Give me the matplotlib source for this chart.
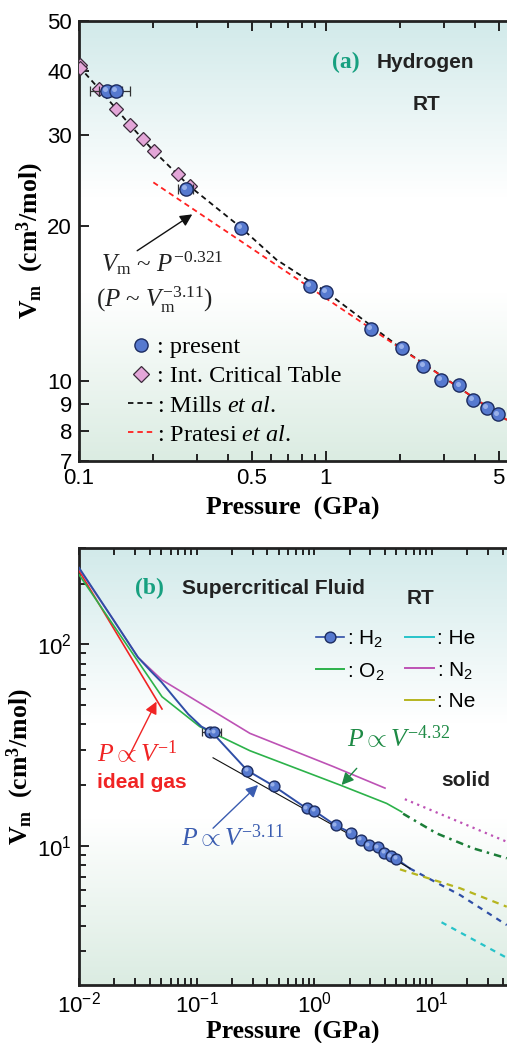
import numpy as np
import matplotlib
matplotlib.use('Agg')
import matplotlib.pyplot as plt
from matplotlib.lines import Line2D
from matplotlib.colors import LinearSegmentedColormap
from matplotlib.ticker import FixedLocator, NullFormatter, NullLocator
from matplotlib.transforms import offset_copy

plt.rcParams['font.family'] = ['Liberation Sans', 'DejaVu Sans']
plt.rcParams['mathtext.fontset'] = 'custom'
plt.rcParams['mathtext.rm'] = 'Liberation Serif'
plt.rcParams['mathtext.it'] = 'Liberation Serif:italic'
plt.rcParams['mathtext.bf'] = 'Liberation Serif:bold'
plt.rcParams['mathtext.sf'] = 'Liberation Sans'

# ---------------- data: panel (a) ----------------
present_P = [0.130, 0.141, 0.270, 0.451, 0.861, 1.00, 1.52, 2.04, 2.48, 2.92, 3.47, 3.95, 4.49, 4.98]
present_V = [36.6, 36.6, 23.6, 19.8, 15.3, 14.9, 12.6, 11.6, 10.7, 10.05, 9.8, 9.2, 8.86, 8.61]
present_Perr = [0.019, 0.020, 0.019, 0.010, 0, 0, 0, 0, 0, 0, 0, 0, 0, 0]

ict_P = [0.101, 0.101, 0.1205, 0.141, 0.161, 0.181, 0.2007, 0.251, 0.281]
ict_V = [41.1, 40.5, 36.9, 33.8, 31.4, 29.5, 28.0, 25.2, 23.9]

mills_P = [0.1, 0.12, 0.16, 0.2, 0.28, 0.45, 0.63, 1.0, 2.0, 5.0, 5.4]
mills_V = [40.8, 37.0, 31.5, 28.0, 23.9, 19.9, 17.2, 14.9, 11.6, 8.6, 8.4]

pratesi_P = [0.2, 5.4]
pratesi_V = [24.3, 8.4]

xticks_a = [0.1, 0.5, 1, 5]
xticklabels_a = ['0.1', '0.5', '1', '5']
xminor_a = [0.2, 0.3, 0.4, 0.6, 0.7, 0.8, 0.9, 2, 3, 4]
yticks_a = [7, 8, 9, 10, 20, 30, 40, 50]
yticklabels_a = ['7', '8', '9', '10', '20', '30', '40', '50']

# ---------------- data: panel (b) ----------------
h2_P = [0.130, 0.141, 0.270, 0.451, 0.861, 1.00, 1.52, 2.04, 2.48, 2.92, 3.47, 3.95, 4.49, 4.98]
h2_V = [36.6, 36.6, 23.6, 19.8, 15.3, 14.9, 12.6, 11.6, 10.7, 10.05, 9.8, 9.2, 8.86, 8.61]
h2_Perr = [0.019, 0.020, 0, 0, 0, 0, 0, 0, 0, 0, 0, 0, 0, 0]
h2_curve_P = [0.01, 0.02, 0.0318, 0.0413, 0.0502, 0.0652, 0.0848, 0.110, 0.135, 0.270, 0.451,
              0.861, 1.00, 1.52, 2.04, 2.48, 2.92, 3.47, 3.95, 4.49, 4.98, 6.5]
h2_curve_V = [240, 130, 86, 73, 65, 54, 45, 39.0, 36.6, 23.6, 19.8,
              15.3, 14.9, 12.6, 11.6, 10.7, 10.05, 9.8, 9.2, 8.86, 8.61, 7.7]
h2_solid_P = [6.5, 17.4, 43.4]
h2_solid_V = [7.7, 5.68, 4.03]
fit311_P = [0.138, 6.52]
fit311_V = [27.3, 7.71]

ideal_P = [0.01, 0.0508]
ideal_V = [232, 47.7]

o2_P = [0.01, 0.0508, 0.1064, 0.284, 1.655, 4.13, 5.55]
o2_V = [222, 54.9, 39.0, 29.6, 20.0, 16.2, 14.7]
o2_solid_P = [5.7, 11.0, 22.5, 43.4]
o2_solid_V = [14.4, 11.5, 9.69, 8.65]

n2_P = [0.01, 0.02, 0.0318, 0.0508, 0.284, 1.45, 4.0]
n2_V = [238, 130, 86, 66.5, 36.1, 24.7, 19.3]
n2_solid_P = [5.9, 43.4]
n2_solid_V = [17.0, 10.45]

ne_solid_P = [5.36, 17.4, 43.4]
ne_solid_V = [7.62, 6.14, 4.97]

he_solid_P = [12.1, 43.4]
he_solid_V = [4.16, 2.77]

# ---------------- figure ----------------
W, H = 507, 1043
fig = plt.figure(figsize=(W / 100, H / 100), dpi=100)


def fx(x):
    return x / W


def fy(y):
    return 1 - y / H


bg_cmap = LinearSegmentedColormap.from_list(
    'bg', [(0, '#dbece2'), (0.38, '#ffffff'), (0.6, '#ffffff'), (1, '#d2eaea')])


def make_axes(left, top, right, bottom):
    rect = [fx(left), fy(bottom), fx(right) - fx(left), fy(top) - fy(bottom)]
    bg = fig.add_axes(rect, zorder=0)
    bg.imshow(np.linspace(0, 1, 256).reshape(-1, 1), cmap=bg_cmap, aspect='auto',
              origin='lower', extent=[0, 1, 0, 1])
    bg.axis('off')
    ax = fig.add_axes(rect, zorder=1)
    ax.set_facecolor('none')
    ax.set_xscale('log')
    ax.set_yscale('log')
    for s in ['left', 'bottom', 'top']:
        ax.spines[s].set_linewidth(2.0)
        ax.spines[s].set_color('#222222')
    ax.spines['right'].set_visible(False)
    ax.tick_params(which='both', direction='in', top=True, right=False, width=1.4,
                   color='#222222', labelsize=16, pad=5)
    ax.tick_params(which='major', length=7.5)
    ax.tick_params(which='minor', length=5)
    return ax


ax1 = make_axes(79, 21, 507, 460.7)
ax2 = make_axes(79, 548, 507, 985)

serif = 'Liberation Serif'
blue_face = '#5679cf'
blue_edge = '#1c2c60'
blue_hi = '#a9bff0'


def spheres(ax, P, V, ms):
    ax.plot(P, V, ls='none', marker='o', ms=ms, mfc=blue_face, mec=blue_edge, mew=1.0, zorder=6)
    tr = offset_copy(ax.transData, fig=fig, x=-ms * 0.14, y=ms * 0.14, units='points')
    ax.plot(P, V, ls='none', marker='o', ms=ms * 0.38, mfc=blue_hi, mec='none', alpha=0.8,
            transform=tr, zorder=7)


# ---------------- panel (a) ----------------
ax1.plot(mills_P, mills_V, ls=(0, (3, 2.2)), color='#111111', lw=1.3, zorder=3)
ax1.plot(pratesi_P, pratesi_V, ls=(0, (3, 2.2)), color='#ff2020', lw=1.3, zorder=3)
ax1.plot(ict_P, ict_V, ls='none', marker='D', ms=7.5, mfc='#e3a6d8', mec='#3a2a3a', mew=0.9, zorder=4)
ax1.errorbar(present_P, present_V, xerr=present_Perr, fmt='none', ecolor='#333333',
             elinewidth=0.9, capsize=3.6, capthick=0.9, zorder=4)
spheres(ax1, present_P, present_V, 9.5)

ax1.set_xlim(0.1, 5.406)
ax1.set_ylim(7, 50)
ax1.xaxis.set_major_locator(FixedLocator(xticks_a))
ax1.set_xticklabels(xticklabels_a)
ax1.xaxis.set_minor_locator(FixedLocator(xminor_a))
ax1.xaxis.set_minor_formatter(NullFormatter())
ax1.yaxis.set_major_locator(FixedLocator(yticks_a))
ax1.set_yticklabels(yticklabels_a)
ax1.yaxis.set_minor_locator(NullLocator())

ax1.set_xlabel('Pressure  (GPa)', family=serif, weight='bold', fontsize=18.5, labelpad=6)
ax1.set_ylabel(r'$\mathbf{V}_\mathbf{m}$  (cm$^\mathbf{3}$/mol)', family=serif, weight='bold',
               fontsize=18.5, labelpad=1)

fig.text(fx(332), fy(62), '(a)', family=serif, weight='bold', fontsize=17, color='#17a080',
         va='center', ha='left')
fig.text(fx(377), fy(62), 'Hydrogen', weight='bold', fontsize=15, color='#222222',
         va='center', ha='left')
fig.text(fx(427), fy(104), 'RT', weight='bold', fontsize=15, color='#222222',
         va='center', ha='center')

fig.text(fx(101), fy(263), r'$V_\mathrm{m}$ ~ $P^{-0.321}$', family=serif, fontsize=18,
         va='center', ha='left', color='#222222')
fig.text(fx(96), fy(300), r'($P$ ~ $V_\mathrm{m}^{-3.11}$)', family=serif, fontsize=18,
         va='center', ha='left', color='#222222')
ax1.annotate('', xy=(0.2875, 21.06), xytext=(0.172, 17.9),
             arrowprops=dict(arrowstyle='-|>', color='#111111', lw=1.0, mutation_scale=18,
                             shrinkA=0, shrinkB=0))

h_a = [Line2D([], [], ls='none', marker='o', ms=9.5, mfc=blue_face, mec=blue_edge, mew=1.0),
       Line2D([], [], ls='none', marker='D', ms=8.5, mfc='#e3a6d8', mec='#3a2a3a', mew=0.9),
       Line2D([], [], ls=(0, (3, 2.2)), color='#111111', lw=1.3),
       Line2D([], [], ls=(0, (3, 2.2)), color='#ff2020', lw=1.3)]
l_a = [': present', ': Int. Critical Table', r': Mills $et\ al$.', r': Pratesi $et\ al$.']
ax1.legend(h_a, l_a, loc='upper left', bbox_to_anchor=(fx(128), fy(336)),
           bbox_transform=fig.transFigure, frameon=False,
           prop={'family': serif, 'size': 17.5}, handlelength=1.05, handletextpad=0.15,
           labelspacing=0.30, borderpad=0, borderaxespad=0)

# ---------------- panel (b) ----------------
c_blue = '#2f4ea6'
c_green = '#2cb24a'
c_dgreen = '#1b7d38'
c_mag = '#bd52b5'
c_red = '#f02424'
c_cyan = '#27c3c9'
c_yel = '#b6b51f'

ax2.plot(ideal_P, ideal_V, color=c_red, lw=1.2, zorder=3)
ax2.plot(n2_P, n2_V, color=c_mag, lw=1.2, zorder=3)
ax2.plot(o2_P, o2_V, color=c_green, lw=1.2, zorder=3)
ax2.plot(h2_curve_P, h2_curve_V, color=c_blue, lw=1.4, zorder=4)
ax2.plot(fit311_P, fit311_V, color='#111111', lw=0.8, zorder=4)
ax2.plot(n2_solid_P, n2_solid_V, color=c_mag, lw=1.6, ls=(0, (1, 2)), zorder=3)
ax2.plot(o2_solid_P, o2_solid_V, color=c_dgreen, lw=1.8, ls=(0, (3, 2, 1, 2)), zorder=3)
ax2.plot(h2_solid_P, h2_solid_V, color=c_blue, lw=1.6, ls=(0, (2.5, 2.5)), zorder=3)
ax2.plot(ne_solid_P, ne_solid_V, color=c_yel, lw=1.6, ls=(0, (3, 2.5)), zorder=3)
ax2.plot(he_solid_P, he_solid_V, color=c_cyan, lw=1.6, ls=(0, (2.5, 2.5)), zorder=3)
ax2.errorbar(h2_P, h2_V, xerr=h2_Perr, fmt='none', ecolor='#333333', elinewidth=0.9,
             capsize=3.2, capthick=0.9, zorder=5)
spheres(ax2, h2_P, h2_V, 7.8)

ax2.set_xlim(0.01, 43.6)
ax2.set_ylim(2.03, 300.8)
ax2.xaxis.set_major_locator(FixedLocator([0.01, 0.1, 1, 10]))
ax2.set_xticklabels([r'$\mathsf{10^{-2}}$', r'$\mathsf{10^{-1}}$', r'$\mathsf{10^{0}}$',
                     r'$\mathsf{10^{1}}$'])
ax2.xaxis.set_minor_locator(FixedLocator([m * d for d in [0.01, 0.1, 1, 10] for m in range(2, 10)]))
ax2.xaxis.set_minor_formatter(NullFormatter())
ax2.tick_params(axis='x', which='major', length=5)
ax2.yaxis.set_major_locator(FixedLocator([10, 100]))
ax2.set_yticklabels([r'$\mathsf{10^{1}}$', r'$\mathsf{10^{2}}$'])
ax2.yaxis.set_minor_locator(FixedLocator([m * d for d in [1, 10, 100] for m in range(2, 10)]))
ax2.yaxis.set_minor_formatter(NullFormatter())

ax2.set_xlabel('Pressure  (GPa)', family=serif, weight='bold', fontsize=18.5, labelpad=2)
ax2.set_ylabel(r'$\mathbf{V}_\mathbf{m}$  (cm$^\mathbf{3}$/mol)', family=serif, weight='bold',
               fontsize=18.5, labelpad=1)

fig.text(fx(135), fy(588), '(b)', family=serif, weight='bold', fontsize=17, color='#17a080',
         va='center', ha='left')
fig.text(fx(182), fy(588), 'Supercritical Fluid', weight='bold', fontsize=15, color='#222222',
         va='center', ha='left')
fig.text(fx(421), fy(599), 'RT', weight='bold', fontsize=15, color='#222222',
         va='center', ha='center')
fig.text(fx(466), fy(780), 'solid', weight='bold', fontsize=15, color='#222222',
         va='center', ha='center')

fig.text(fx(97), fy(753), r'$P \propto V^{-1}$', family=serif, fontsize=18.5, color=c_red,
         va='center', ha='left')
fig.text(fx(97), fy(782), 'ideal gas', weight='bold', fontsize=15, color=c_red,
         va='center', ha='left')
fig.text(fx(347), fy(738), r'$P \propto V^{-4.32}$', family=serif, fontsize=18.5, color='#1e8a45',
         va='center', ha='left')
fig.text(fx(181), fy(837), r'$P \propto V^{-3.11}$', family=serif, fontsize=18.5, color='#3a5cb0',
         va='center', ha='left')

ax2.annotate('', xy=(0.0456, 51.9), xytext=(0.0261, 27.2),
             arrowprops=dict(arrowstyle='-|>', color=c_red, lw=1.0, mutation_scale=18,
                             shrinkA=0, shrinkB=0))
ax2.annotate('', xy=(1.71, 20.0), xytext=(2.30, 24.2),
             arrowprops=dict(arrowstyle='-|>', color='#1e8a45', lw=1.0, mutation_scale=18,
                             shrinkA=0, shrinkB=0))
ax2.annotate('', xy=(0.333, 20.0), xytext=(0.138, 12.2),
             arrowprops=dict(arrowstyle='-|>', color='#3a5cb0', lw=1.0, mutation_scale=18,
                             shrinkA=0, shrinkB=0))

h_b = [Line2D([], [], color=c_blue, lw=1.2, marker='o', ms=7.8, mfc=blue_face, mec=blue_edge),
       Line2D([], [], color=c_green, lw=1.4),
       Line2D([], [], color='none', lw=0),
       Line2D([], [], color=c_cyan, lw=1.4),
       Line2D([], [], color=c_mag, lw=1.4),
       Line2D([], [], color=c_yel, lw=1.4)]
l_b = [r': H$_\mathsf{2}$', r': O$_\mathsf{2}$', '', ': He', r': N$_\mathsf{2}$', ': Ne']
ax2.legend(h_b, l_b, ncol=2, loc='upper left', bbox_to_anchor=(fx(316), fy(628)),
           bbox_transform=fig.transFigure, frameon=False, prop={'size': 15},
           handlelength=1.35, handletextpad=0.15, labelspacing=0.56, columnspacing=1.0,
           borderpad=0, borderaxespad=0)

fig.savefig('out.png', dpi=100)
